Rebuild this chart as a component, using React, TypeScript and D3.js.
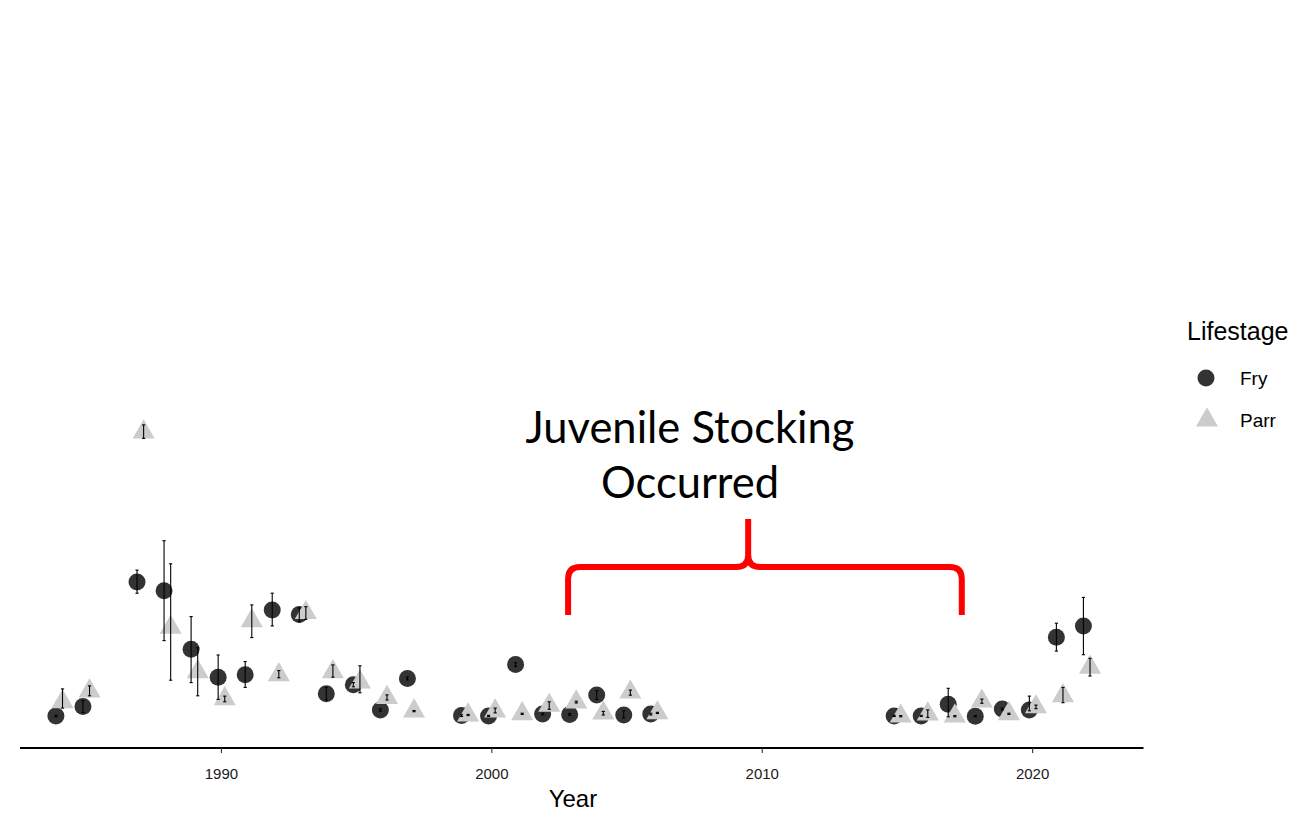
import React from 'react';
import * as d3 from 'd3';

const years = [1984, 1985, 1987, 1988, 1989, 1990, 1991, 1992, 1993, 1994, 1995, 1996, 1997, 1999, 2000, 2001, 2002, 2003, 2004, 2005, 2006, 2015, 2016, 2017, 2018, 2019, 2020, 2021, 2022];

const fryMean = [0.7, 3.8, 45.3, 42.4, 22.9, 13.6, 14.4, 36.0, 34.5, 8.1, 11.1, 2.7, 13.2, 0.8, 0.7, 17.8, 1.3, 1.2, 7.7, 1.0, 1.3, 0.7, 0.7, 4.6, 0.6, 3.0, 2.7, 26.9, 30.7];
const fryLow = [0.4, 1.8, 41.6, 25.8, 11.8, 6.2, 10.2, 30.7, 32.1, 6.0, 10.4, 2.3, 12.7, 0.5, 0.5, 17.2, 1.0, 0.9, 6.2, 0.0, 1.0, 0.5, 0.5, 0.4, 0.4, 2.7, 2.4, 22.3, 21.1];
const fryHigh = [0.9, 5.8, 49.3, 59.1, 33.8, 21.0, 18.8, 41.6, 36.7, 10.2, 11.8, 3.1, 13.7, 1.1, 0.9, 18.4, 1.6, 1.5, 9.1, 2.4, 1.6, 0.9, 0.9, 9.9, 0.8, 3.3, 7.3, 31.6, 40.2];

const parrMean = [5.4, 9.0, 95.3, 30.2, 15.4, 6.4, 32.4, 14.4, 35.1, 15.4, 12.0, 6.8, 2.3, 1.0, 2.3, 1.4, 4.2, 5.3, 1.6, 8.6, 1.7, 0.6, 1.3, 0.6, 5.6, 1.4, 3.7, 7.4, 16.9];
const parrLow = [3.3, 7.4, 93.2, 12.6, 7.4, 5.4, 26.8, 13.4, 32.9, 13.6, 8.4, 6.0, 2.1, 0.8, 1.7, 1.2, 2.9, 5.0, 1.0, 7.6, 1.5, 0.4, 0.2, 0.4, 4.9, 1.2, 3.1, 5.1, 14.0];
const parrHigh = [9.7, 10.7, 97.7, 51.4, 23.4, 7.3, 37.7, 15.8, 37.1, 17.7, 17.4, 7.7, 2.5, 1.2, 3.3, 1.6, 5.4, 5.6, 2.2, 9.3, 1.9, 0.8, 2.7, 0.8, 6.3, 1.6, 4.3, 10.2, 19.9];

const xTicks = [1990, 2000, 2010, 2020];
const lifestages = ['Fry', 'Parr'];
const annotationLines = ['Juvenile Stocking', 'Occurred'];
const bracketStart = 2002.82;
const bracketPeak = 2009.48;
const bracketEnd = 2017.38;

const W = 1301;
const H = 815;
const FONT = '"Liberation Sans", Arial, Helvetica, sans-serif';
const ANNO_FONT = 'Lato, "Open Sans", sans-serif';
const FRY_COLOR = '#333333';
const PARR_COLOR = '#cccccc';
const DODGE = 0.122;

function trianglePath(cx: number, cy: number, R: number) {
  const r = 1.5551 * R;
  const xc = 1.3468 * R;
  const yc = 0.7776 * R;
  const p = d3.path();
  p.moveTo(cx, cy - r);
  p.lineTo(cx + xc, cy + yc);
  p.lineTo(cx - xc, cy + yc);
  p.closePath();
  return p.toString();
}

export default function App() {
  const x = d3.scaleLinear().domain([1982.55, 2024.1]).range([20, 1143.5]);
  const y = d3.scaleLinear().domain([0, 100]).range([718, 418]);
  const axisY = 748;
  const panelCenter = x(2003.0);

  const fry = years.map((yr, i) => ({ yr, m: fryMean[i], lo: fryLow[i], hi: fryHigh[i], xx: x(yr - DODGE) }));
  const parr = years.map((yr, i) => ({ yr, m: parrMean[i], lo: parrLow[i], hi: parrHigh[i], xx: x(yr + DODGE) }));

  const R = 8.2;
  const cap = 1.6;

  const bl = x(bracketStart);
  const bp = x(bracketPeak);
  const br = x(bracketEnd);
  const bBottom = 615;
  const bMid = 567;
  const bTop = 519;
  const rad = 12;
  const bp1 = d3.path();
  bp1.moveTo(bl, bBottom);
  bp1.lineTo(bl, bMid + rad);
  bp1.quadraticCurveTo(bl, bMid, bl + rad, bMid);
  bp1.lineTo(bp - rad, bMid);
  bp1.quadraticCurveTo(bp, bMid, bp, bMid - rad);
  bp1.lineTo(bp, bTop);
  bp1.moveTo(bp, bMid - rad);
  bp1.quadraticCurveTo(bp, bMid, bp + rad, bMid);
  bp1.lineTo(br - rad, bMid);
  bp1.quadraticCurveTo(br, bMid, br, bMid + rad);
  bp1.lineTo(br, bBottom);

  const errBar = (d: any, key: string) => (
    <g key={key} stroke="#000" strokeWidth={1.1}>
      <line x1={d.xx} x2={d.xx} y1={y(d.lo)} y2={y(d.hi)} />
      <line x1={d.xx - cap} x2={d.xx + cap} y1={y(d.lo)} y2={y(d.lo)} />
      <line x1={d.xx - cap} x2={d.xx + cap} y1={y(d.hi)} y2={y(d.hi)} />
    </g>
  );

  return (
    <svg width={W} height={H} style={{ position: 'absolute', left: 0, top: 0, background: '#fff' }}>
      <rect x={0} y={0} width={W} height={H} fill="#fff" />
      {/* axis */}
      <line x1={x.range()[0]} x2={x.range()[1]} y1={axisY} y2={axisY} stroke="#000" strokeWidth={2} />
      {xTicks.map((t) => (
        <g key={t}>
          <line x1={x(t)} x2={x(t)} y1={axisY} y2={axisY + 5} stroke="#333" strokeWidth={1.1} />
          <text x={x(t)} y={axisY + 31} textAnchor="middle" fontFamily={FONT} fontSize={15} fill="#1a1a1a">{t}</text>
        </g>
      ))}
      <text x={panelCenter} y={807} textAnchor="middle" fontFamily={FONT} fontSize={24} fill="#000">Year</text>

      {/* points */}
      {fry.map((d) => (
        <circle key={'f' + d.yr} cx={d.xx} cy={y(d.m)} r={8.5} fill={FRY_COLOR} />
      ))}
      {parr.map((d) => (
        <path key={'p' + d.yr} d={trianglePath(d.xx, y(d.m), R)} fill={PARR_COLOR} />
      ))}
      {fry.map((d) => errBar(d, 'ef' + d.yr))}
      {parr.map((d) => errBar(d, 'ep' + d.yr))}

      {/* legend */}
      <text x={1187} y={340} fontFamily={FONT} fontSize={25} fill="#000">Lifestage</text>
      <circle cx={1206} cy={378} r={8.5} fill={FRY_COLOR} />
      <text x={1240} y={385} fontFamily={FONT} fontSize={19} fill="#000">{lifestages[0]}</text>
      <path d={trianglePath(1207, 420, R)} fill={PARR_COLOR} />
      <text x={1240} y={427} fontFamily={FONT} fontSize={19} fill="#000">{lifestages[1]}</text>

      {/* annotation */}
      <text x={690} y={443} textAnchor="middle" fontFamily={ANNO_FONT} fontSize={43.5} fill="#000">{annotationLines[0]}</text>
      <text x={690} y={498} textAnchor="middle" fontFamily={ANNO_FONT} fontSize={43.5} fill="#000">{annotationLines[1]}</text>
      <path d={bp1.toString()} fill="none" stroke="#ff0000" strokeWidth={6} />
    </svg>
  );
}
